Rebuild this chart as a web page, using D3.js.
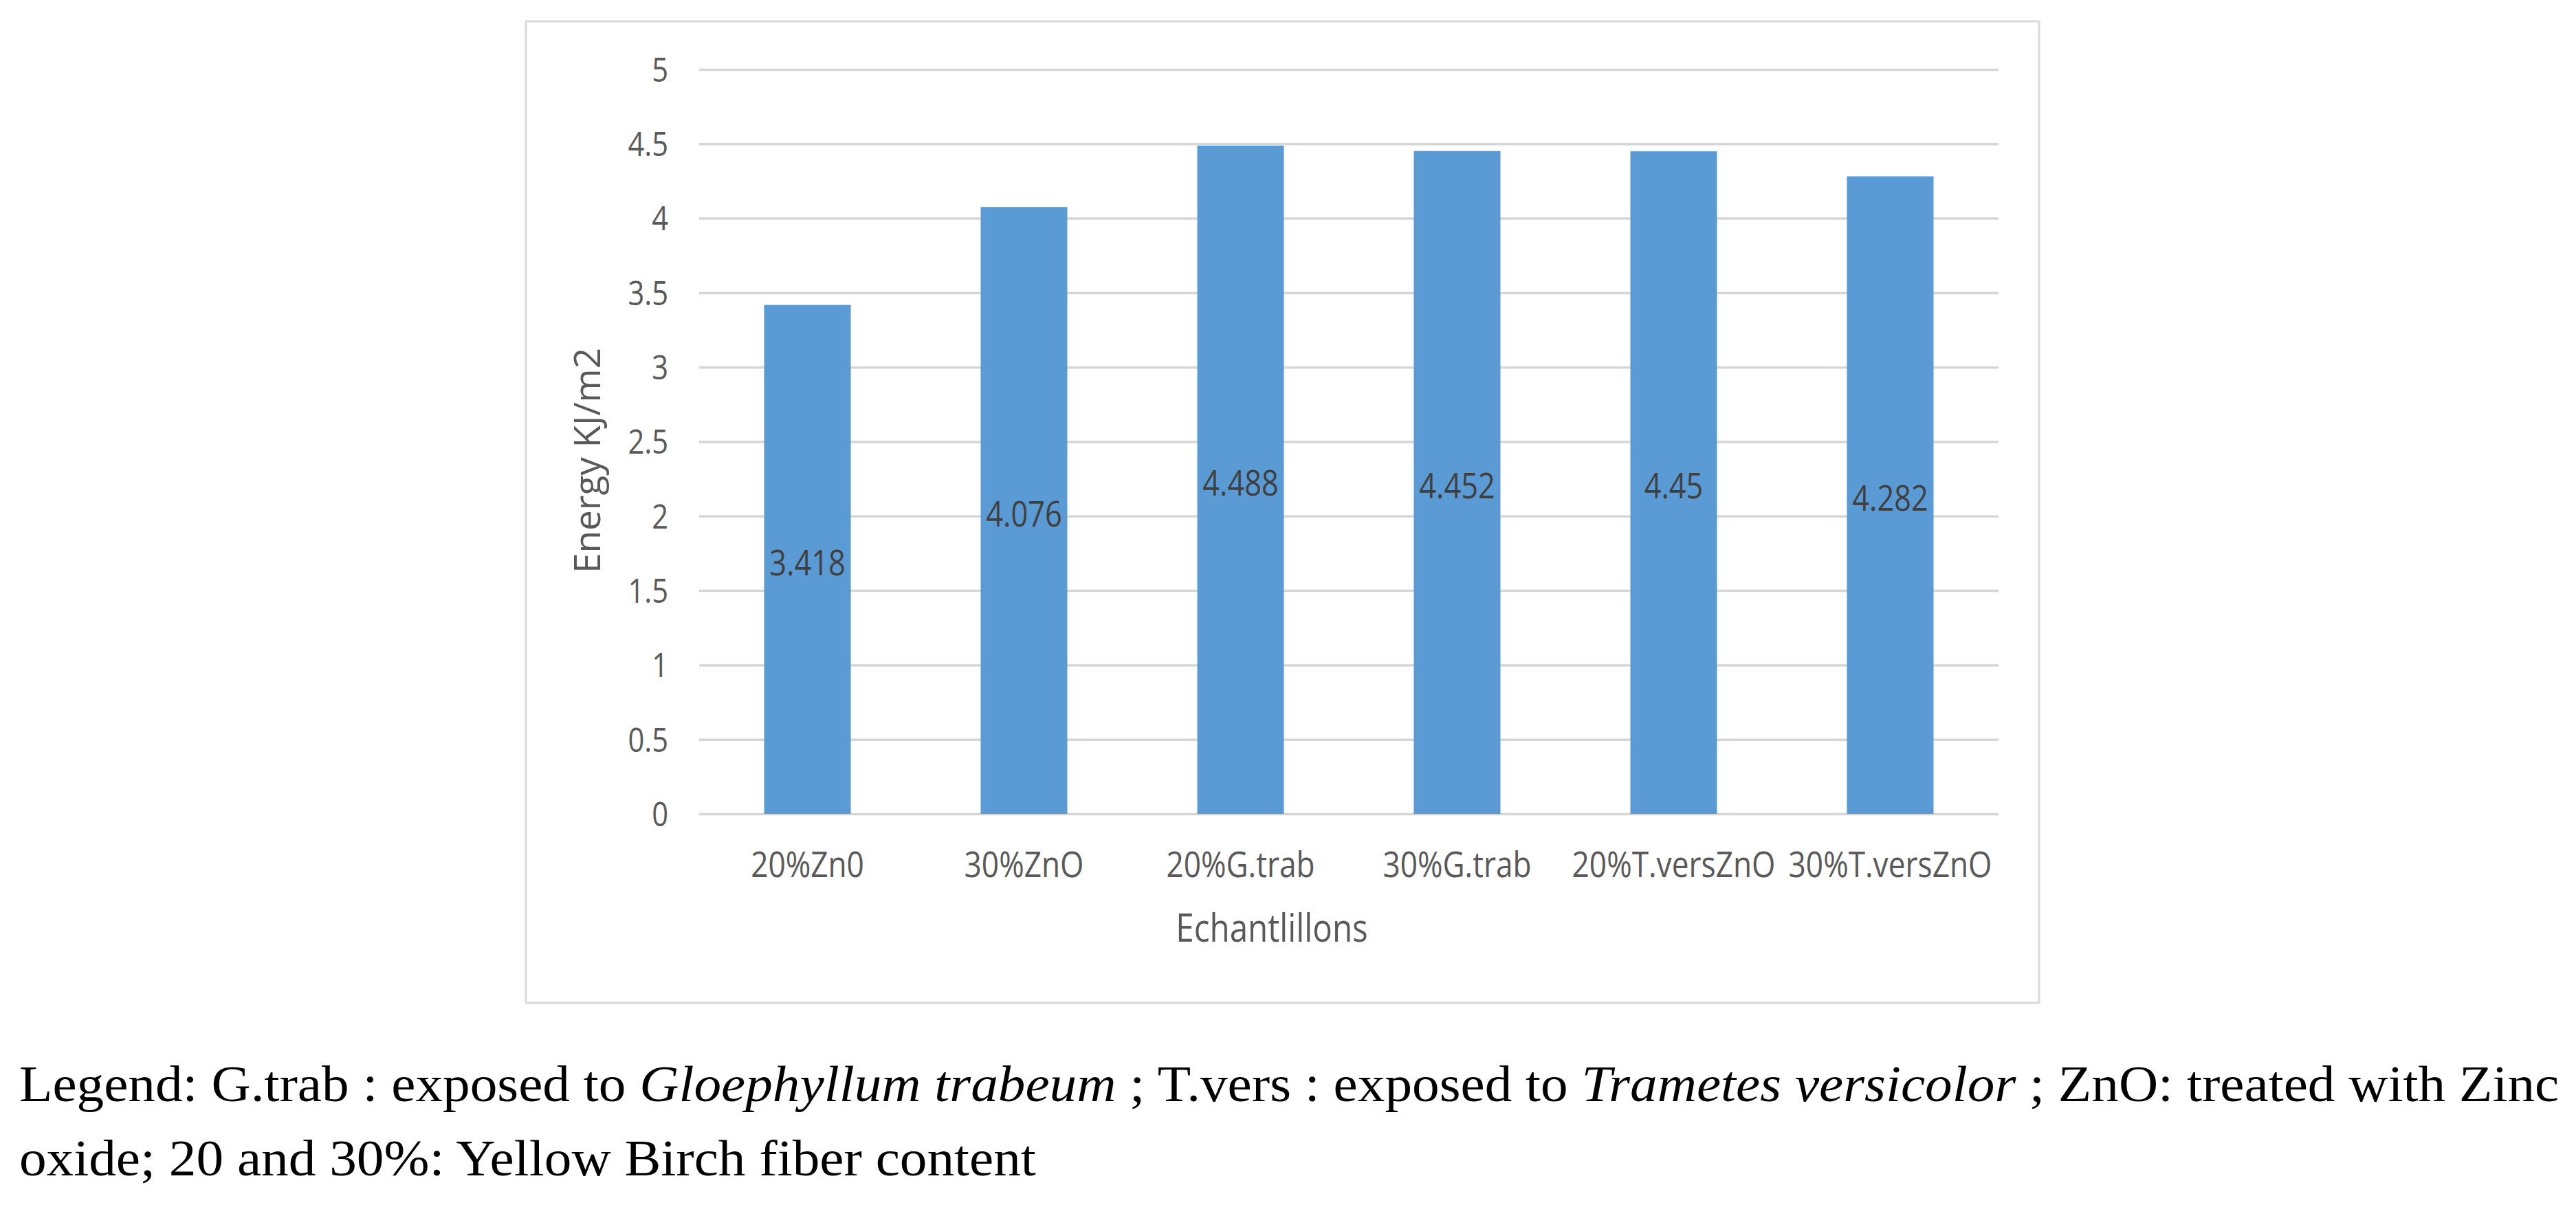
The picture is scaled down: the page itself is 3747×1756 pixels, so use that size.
<!DOCTYPE html>
<html><head><meta charset="utf-8">
<script src="https://cdn.jsdelivr.net/npm/d3@7"></script>
<style>html,body{margin:0;padding:0;background:#fff;} svg{display:block}</style>
</head><body>
<svg id="chart" width="3747" height="1756"></svg>
<script>
// ---- data ----
const categories = ["20%Zn0", "30%ZnO", "20%G.trab", "30%G.trab", "20%T.versZnO", "30%T.versZnO"];
const energyValues = [3.418, 4.076, 4.488, 4.452, 4.45, 4.282];
const yTickValues = [0, 0.5, 1, 1.5, 2, 2.5, 3, 3.5, 4, 4.5, 5];
const yAxisTitle = "Energy KJ/m2";
const xAxisTitle = "Echantlillons";
const captionLine1 = [
  {text: "Legend: G.trab : exposed to ", italic: false},
  {text: "Gloephyllum trabeum", italic: true},
  {text: " ; T.vers : exposed to ", italic: false},
  {text: "Trametes versicolor", italic: true},
  {text: " ; ZnO: treated with Zinc", italic: false}
];
const captionLine2 = [
  {text: "oxide; 20 and 30%: Yellow Birch fiber content", italic: false}
];

// ---- layout ----
const svg = d3.select("#chart");
const frame = {x: 765, y: 31, w: 2201, h: 1428};
const plot = {left: 1017, right: 2907, top: 101, bottom: 1184};
const sans = "'Open Sans', 'Noto Sans', sans-serif";
const serif = "'Liberation Serif', 'DejaVu Serif', serif";
const squish = 0.85;

svg.append("rect").attr("x", 0).attr("y", 0).attr("width", 3747).attr("height", 1756).attr("fill", "#fff");
svg.append("rect")
  .attr("x", frame.x).attr("y", frame.y).attr("width", frame.w).attr("height", frame.h)
  .attr("fill", "#fff").attr("stroke", "#d9d9d9").attr("stroke-width", 3);

const x = d3.scaleBand().domain(categories).range([plot.left, plot.right]).paddingInner(0.6).paddingOuter(0.3);
const y = d3.scaleLinear().domain([0, 5]).range([plot.bottom, plot.top]);

// gridlines via axis
const gridAxis = d3.axisLeft(y).tickValues(yTickValues).tickSize(-(plot.right - plot.left)).tickFormat("");
const gg = svg.append("g").attr("transform", `translate(${plot.left},0)`).call(gridAxis);
gg.select(".domain").remove();
gg.selectAll(".tick line").attr("stroke", "#d6d6d6").attr("stroke-width", 3.5);

// y tick labels
const yPad = 45;
const yAxis = d3.axisLeft(y).tickValues(yTickValues).tickSize(0).tickPadding(yPad).tickFormat(d => String(d));
const ya = svg.append("g").attr("transform", `translate(${plot.left},0)`).call(yAxis);
ya.select(".domain").remove();
ya.selectAll(".tick text")
  .attr("x", 0).attr("dy", 0).attr("dominant-baseline", "central")
  .attr("transform", `translate(${-yPad},-2) scale(${squish},1)`)
  .attr("font-family", sans).attr("font-size", 49).attr("fill", "#595959");

// bars
svg.append("g").selectAll("rect").data(energyValues).join("rect")
  .attr("x", (d, i) => x(categories[i]))
  .attr("width", x.bandwidth())
  .attr("y", d => y(d))
  .attr("height", d => y(0) - y(d))
  .attr("fill", "#5b9bd5");

// data labels (centered in bar)
svg.append("g").selectAll("g").data(energyValues).join("g")
  .attr("transform", (d, i) => `translate(${x(categories[i]) + x.bandwidth() / 2},${y(d / 2) + 3})`)
  .append("text")
  .attr("transform", `scale(${squish},1)`)
  .attr("text-anchor", "middle").attr("dominant-baseline", "central")
  .attr("font-family", sans).attr("font-size", 51).attr("fill", "#404040")
  .text(d => String(d));

// x axis labels
const xAxis = d3.axisBottom(x).tickSize(0).tickPadding(0);
const xa = svg.append("g").attr("transform", `translate(0,${plot.bottom})`).call(xAxis);
xa.select(".domain").remove();
xa.selectAll(".tick text")
  .attr("y", 72).attr("dy", 0).attr("dominant-baseline", "central")
  .attr("transform", `scale(${squish},1)`)
  .attr("font-family", sans).attr("font-size", 52).attr("fill", "#595959");

// axis titles
svg.append("text").attr("transform", "translate(873,670) rotate(-90)")
  .attr("text-anchor", "middle").attr("font-family", sans).attr("font-size", 53).attr("fill", "#595959")
  .text(yAxisTitle);
svg.append("g").attr("transform", "translate(1850,1348)")
  .append("text").attr("transform", `scale(${squish},1)`).attr("dominant-baseline", "central")
  .attr("text-anchor", "middle").attr("font-family", sans).attr("font-size", 56).attr("fill", "#595959")
  .text(xAxisTitle);

// caption
function captionLine(parts) {
  const t = svg.append("text").attr("x", 0).attr("y", 0)
    .attr("font-family", serif).attr("font-size", 75).attr("fill", "#000");
  parts.forEach(p => t.append("tspan").attr("font-style", p.italic ? "italic" : "normal").text(p.text));
  return t;
}
const c1 = captionLine(captionLine1);
const c2 = captionLine(captionLine2);
const w1 = c1.node().getComputedTextLength();
const sx = (3723 - 28) / w1;
c1.attr("transform", `translate(28,1602) scale(${sx},1)`);
c2.attr("transform", `translate(28,1710) scale(${sx},1)`);
</script>
</body></html>
